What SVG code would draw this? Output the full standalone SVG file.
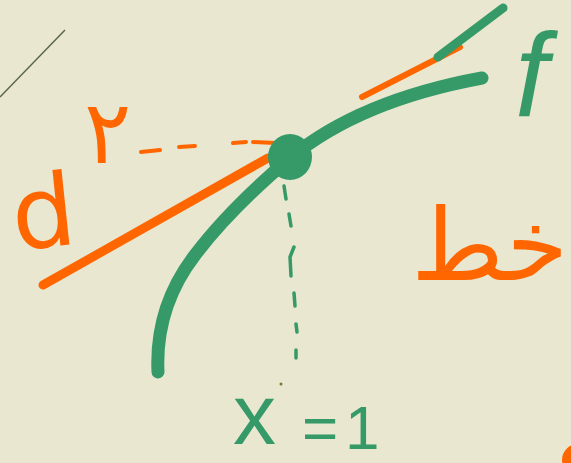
<svg xmlns="http://www.w3.org/2000/svg" width="571" height="463" viewBox="0 0 571 463">
<style>
.or{fill:none;stroke:#ff6600;stroke-linecap:round;stroke-linejoin:round}
.gr{fill:none;stroke:#359a68;stroke-linecap:round;stroke-linejoin:round}
.to{fill:#ff6600;font-family:"DejaVu Sans",sans-serif}
.tg{fill:#359a68;font-family:"Liberation Sans",sans-serif}
</style>
<rect width="571" height="463" fill="#e9e7d0"/>
<g id="connectors">
  <line x1="0" y1="97" x2="65" y2="30" stroke="#5a6648" stroke-width="1.5"/>
  <line class="or" x1="43" y1="285" x2="268" y2="158" stroke-width="9"/>
  <line class="or" x1="362" y1="97" x2="460" y2="47" stroke-width="6"/>
  <path class="or" d="M141 152 L160 150 M179 147 L195 146 M233 143 L246 142 M253 142 L276 143" stroke-width="4"/>
  <path class="gr" d="M158 372 C156 330 168 290 195 255 C220 222 250 192 290 158 C330 125 390 95 482 78" stroke-width="13"/>
  <path class="gr" d="M438 57 L503 8" stroke-width="9"/>
  <path class="gr" d="M284 186 L286 199 M289 214 L291 226 M294 247 L290 257 L291 276 M294 293 L295 306 M296 324 L297 332 M296 350 L296 358" stroke-width="3.5"/>
  <circle cx="281" cy="384" r="1.5" fill="#7a7a20"/>
</g>
<g id="tangent-point">
  <ellipse cx="290" cy="157" rx="22" ry="23" fill="#359a68"/>
</g>
<g id="label-d"><text class="to" x="10" y="248" font-size="100" transform="rotate(-6 35 200)">d</text></g>
<g id="label-2"><text class="to" x="84" y="163" font-size="88">۲</text></g>
<g id="label-f"><text class="tg" x="515" y="116" font-size="118" font-style="italic">f</text></g>
<g id="label-line"><text class="to" x="568" y="280" font-size="100" direction="rtl" text-anchor="start">خط</text></g>
<g id="label-x"><text class="tg"><tspan x="233" y="444" font-size="86">x</tspan><tspan x="302" y="449" font-size="62">=</tspan><tspan x="345" y="449" font-size="62">1</tspan></text></g>
<circle cx="578" cy="460" r="16" fill="#ff6600"/>
</svg>
